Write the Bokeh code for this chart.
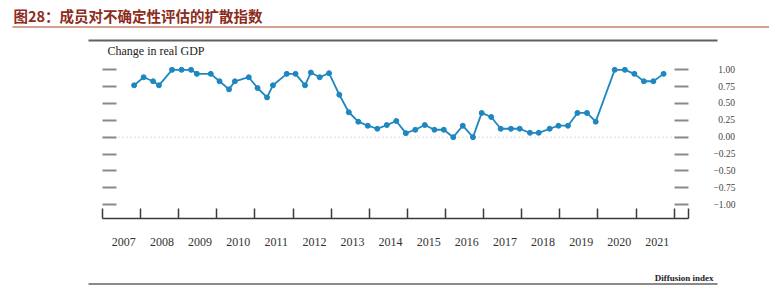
import numpy as np
import pandas as pd
from bokeh.plotting import figure
from bokeh.models import FixedTicker, LinearAxis, Range1d
from bokeh.core.properties import value
from bokeh.embed import file_html
from bokeh.resources import INLINE

# ---------------- data ----------------
title_text = "图28：成员对不确定性评估的扩散指数"
y_title = "Change in real GDP"
note_text = "Diffusion index"

meeting_dates = [
    "2007-10-31",
    "2008-01-30", "2008-04-30", "2008-06-25", "2008-10-29",
    "2009-01-28", "2009-04-29", "2009-06-24", "2009-11-04",
    "2010-01-27", "2010-04-28", "2010-06-23", "2010-11-03",
    "2011-01-26", "2011-04-27", "2011-06-22", "2011-11-02",
    "2012-01-25", "2012-04-25", "2012-06-20", "2012-09-13", "2012-12-12",
    "2013-03-20", "2013-06-19", "2013-09-18", "2013-12-18",
    "2014-03-19", "2014-06-18", "2014-09-17", "2014-12-17",
    "2015-03-18", "2015-06-17", "2015-09-17", "2015-12-16",
    "2016-03-16", "2016-06-15", "2016-09-21", "2016-12-14",
    "2017-03-15", "2017-06-14", "2017-09-20", "2017-12-13",
    "2018-03-21", "2018-06-13", "2018-09-26", "2018-12-19",
    "2019-03-20", "2019-06-19", "2019-09-18", "2019-12-11",
    "2020-06-10", "2020-09-16", "2020-12-16",
    "2021-03-17", "2021-06-16", "2021-09-22",
]

diffusion = [
    0.77,
    0.89, 0.83, 0.77, 1.00,
    1.00, 1.00, 0.94, 0.94,
    0.83, 0.71, 0.83, 0.89,
    0.73, 0.59, 0.77, 0.94,
    0.94, 0.77, 0.96, 0.89, 0.95,
    0.63, 0.37, 0.23, 0.17,
    0.125, 0.18, 0.24, 0.06,
    0.11, 0.18, 0.11, 0.11,
    0.00, 0.17, 0.00, 0.36,
    0.30, 0.125, 0.125, 0.125,
    0.065, 0.065, 0.125, 0.17,
    0.17, 0.36, 0.36, 0.23,
    1.00, 1.00, 0.94,
    0.83, 0.83, 0.94,
]

years = list(range(2007, 2022))
year_labels = [str(y) for y in years]
y_ticks = [1.00, 0.75, 0.50, 0.25, 0.00, -0.25, -0.50, -0.75, -1.00]
y_tick_labels = ["1.00", "0.75", "0.50", "0.25", "0.00",
                 "\u22120.25", "\u22120.50", "\u22120.75", "\u22121.00"]

# ---------------- geometry ----------------
d = pd.to_datetime(meeting_dates)
x_dec = np.asarray(d.year + (d.dayofyear - 1) / np.where(d.is_leap_year, 366, 365), dtype=float)

W, H = 769, 285
AX_L, AX_R = 102.0, 688.0      # pixel extent of the axis box
AX_B = 218.0                   # pixel row of the x axis
ZERO_PX, UNIT_PX = 136.67, 67.35
X0, X1 = 2007.0, 2022.377
sx = (AX_R - AX_L) / (X1 - X0)
x_start, x_end = X0 - AX_L / sx, X1 + (W - AX_R) / sx
y_end = ZERO_PX / UNIT_PX
y_start = -(H - ZERO_PX) / UNIT_PX
Y_AXIS = -(AX_B - ZERO_PX) / UNIT_PX

serif = "Liberation Serif"

p = figure(width=W, height=H, output_backend="svg", toolbar_location=None,
           x_range=Range1d(x_start, x_end), y_range=Range1d(y_start, y_end),
           title=None, min_border=0, x_axis_type=None, y_axis_type=None)
p.outline_line_color = None
p.background_fill_color = "white"
p.border_fill_color = "white"
p.extra_x_ranges = {"px": Range1d(0, W)}
p.extra_y_ranges = {"py": Range1d(H, 0)}

# x axis: labels centred on years, tick marks at year boundaries
label_pos = [y + 0.56 for y in years]
xa = LinearAxis(fixed_location=Y_AXIS, bounds=(X0, X1),
                ticker=FixedTicker(ticks=label_pos,
                                   minor_ticks=[float(y) for y in range(2007, 2023)] + [X1 - 0.0005]))
xa.major_label_overrides = {pos: lab for pos, lab in zip(label_pos, year_labels)}
xa.major_tick_in = 0
xa.major_tick_out = 0
xa.minor_tick_in = 10
xa.minor_tick_out = 0
xa.minor_tick_line_color = "#3a3a3a"
xa.minor_tick_line_width = 1.5
xa.axis_line_color = "#3a3a3a"
xa.axis_line_width = 1.5
xa.major_label_standoff = 19
xa.major_label_text_font = serif
xa.major_label_text_font_size = "12px"
xa.major_label_text_color = "#333333"
p.add_layout(xa, "below")

# left y axis (tick marks only)
ya = LinearAxis(fixed_location=X0, ticker=FixedTicker(ticks=y_ticks))
ya.major_tick_in = 14
ya.major_tick_out = 0
ya.major_tick_line_color = "#8a8a8a"
ya.major_tick_line_width = 2
ya.axis_line_color = None
ya.minor_tick_line_color = None
ya.major_label_overrides = {t: "" for t in y_ticks}
p.add_layout(ya, "left")

# right y axis with labels
ra = LinearAxis(fixed_location=X1, ticker=FixedTicker(ticks=y_ticks))
ra.major_tick_in = 14
ra.major_tick_out = 0
ra.major_tick_line_color = "#8a8a8a"
ra.major_tick_line_width = 2
ra.axis_line_color = None
ra.minor_tick_line_color = None
ra.major_label_overrides = {t: (lab if lab.startswith("\u2212") else "\u2002" + lab)
                            for t, lab in zip(y_ticks, y_tick_labels)}
ra.major_label_standoff = 25
ra.major_label_text_font = serif
ra.major_label_text_font_size = "9.5px"
ra.major_label_text_color = "#444444"
p.add_layout(ra, "right")

# zero reference line across the axis box
p.segment(x0=[X0], y0=[0], x1=[X1], y1=[0], line_color="#b5b5b5",
          line_dash="1 3", line_width=1)

# series
blue = "#1f87c0"
p.line(x_dec, diffusion, line_color=blue, line_width=1.8)
p.scatter(x_dec, diffusion, size=5, fill_color=blue, line_color=blue)

# ---------------- page furniture (pixel space) ----------------
px = dict(x_range_name="px", y_range_name="py")
p.text(x=[13], y=[4], text=[title_text], text_font=value("Noto Sans CJK SC"),
       text_font_style="bold", text_font_size="14.5px", text_color="#8c2c1c",
       text_baseline="top", text_align="left", **px)
p.segment(x0=[12], y0=[26.5], x1=[W], y1=[26.5], line_color="#a8442b", line_width=1.2, **px)
p.segment(x0=[88], y0=[40], x1=[717], y1=[40], line_color="#606060", line_width=2, **px)
p.text(x=[107], y=[43], text=[y_title], text_font=value(serif), text_font_size="12px",
       text_color="#222222", text_baseline="top", text_align="left", **px)
p.text(x=[713], y=[282], text=[note_text], text_font=value(serif),
       text_font_style="bold", text_font_size="9px", text_color="#222222",
       text_align="right", text_baseline="bottom", **px)
p.segment(x0=[88], y0=[283.5], x1=[717], y1=[283.5], line_color="#8a8a8a", line_width=2, **px)

open("out.html", "w").write(file_html(p, INLINE))
